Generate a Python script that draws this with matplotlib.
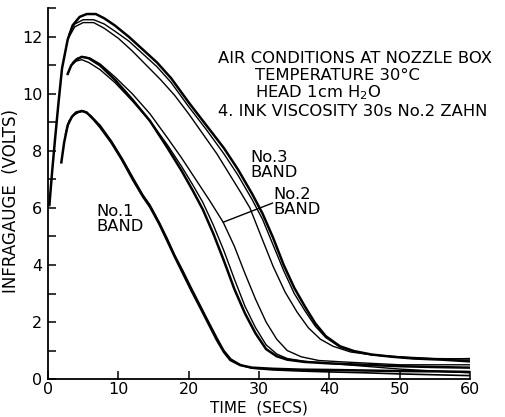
import matplotlib
matplotlib.use("Agg")
import matplotlib.pyplot as plt

# No.3 band - three traces
b3_t1 = [0.2, 0.6, 1.0, 1.5, 2.0, 2.8, 3.5, 4.5, 5.5, 6.8, 8.0, 9.5, 11.5, 13.5, 15.5, 17.5, 20, 22.5, 25,
         27, 29, 30.5, 32, 33.5, 35, 36.5, 38, 39.5, 41.5, 43.5, 46, 49, 52, 56, 60]
b3_v1 = [6.1, 7.3, 8.4, 9.7, 10.9, 11.9, 12.4, 12.7, 12.8, 12.8, 12.65, 12.4, 12.0, 11.55, 11.1, 10.55, 9.7, 8.9, 8.1,
         7.35, 6.5, 5.8, 4.95, 4.0, 3.2, 2.55, 1.95, 1.5, 1.15, 0.98, 0.86, 0.78, 0.72, 0.68, 0.62]
b3_t2 = [3.0, 3.8, 5.0, 6.5, 8.0, 9.5, 11.5, 13.5, 15.5, 17.5, 20, 22.5, 25, 27, 29, 30.5, 32, 33.5, 35, 36.5,
         38, 39.5, 41.5, 43.5, 46, 49, 52, 56, 60]
b3_v2 = [12.1, 12.45, 12.6, 12.6, 12.45, 12.2, 11.85, 11.4, 10.95, 10.4, 9.55, 8.75, 7.9, 7.15, 6.3, 5.6, 4.7, 3.8,
         3.0, 2.4, 1.85, 1.45, 1.12, 0.96, 0.85, 0.78, 0.72, 0.7, 0.72]
b3_t3 = [3.0, 3.8, 5.0, 6.5, 8.0, 10, 12, 14, 16, 18, 20, 22, 24, 26, 27.5, 28.7, 30.3, 32, 33.7, 35.4, 37, 38.7,
         40.5, 43, 46, 50, 55, 60]
b3_v3 = [12.0, 12.35, 12.5, 12.5, 12.3, 11.95, 11.5, 11.0, 10.5, 9.95, 9.3, 8.6, 7.9, 7.1, 6.5, 6.0, 5.0, 3.95,
         3.05, 2.35, 1.8, 1.4, 1.15, 0.95, 0.85, 0.78, 0.72, 0.7]

# No.2 band
b2_t1 = [2.8, 3.3, 4.0, 4.8, 5.8, 7.4, 9.5, 12.0, 14.5, 17.0, 19.0, 20.6, 22.0, 23.5, 25.0, 26.5, 28.0, 29.5,
         31.0, 32.5, 34.0, 36.5, 40, 45, 50, 55, 60]
b2_v1 = [10.7, 11.0, 11.2, 11.3, 11.25, 11.0, 10.5, 9.8, 9.05, 8.1, 7.3, 6.6, 5.95, 5.1, 4.15, 3.15, 2.3, 1.6,
         1.05, 0.8, 0.68, 0.6, 0.55, 0.5, 0.45, 0.42, 0.4]
b2_t2 = [3.3, 4.0, 4.8, 5.8, 7.4, 9.5, 12.0, 14.5, 17.0, 19.0, 20.6, 22.0, 23.5, 25.0, 26.5, 28.0, 29.5, 31.0,
         32.5, 34.0, 36.5, 40, 45, 50, 55, 60]
b2_v2 = [11.0, 11.15, 11.2, 11.1, 10.85, 10.4, 9.75, 9.05, 8.2, 7.45, 6.8, 6.2, 5.4, 4.5, 3.5, 2.55, 1.8, 1.2,
         0.88, 0.72, 0.62, 0.55, 0.45, 0.35, 0.28, 0.22]
b2_t3 = [3.5, 4.2, 5.0, 6.0, 7.4, 9.5, 12.0, 14.5, 17.0, 19.0, 21.0, 23.0, 24.9, 26.5, 28.0, 29.5, 31.0, 32.5,
         34.0, 36.0, 38.5, 42, 46, 50, 55, 60]
b2_v3 = [11.1, 11.25, 11.3, 11.25, 11.05, 10.6, 10.0, 9.3, 8.45, 7.75, 7.0, 6.25, 5.5, 4.65, 3.7, 2.8, 2.0,
         1.4, 1.0, 0.78, 0.65, 0.6, 0.55, 0.5, 0.5, 0.5]

# No.1 band
b1_t1 = [1.9, 2.3, 2.8, 3.4, 4.0, 4.8, 5.5, 6.5, 7.4, 9.0, 10.5, 12.1, 13.5, 14.5, 15.8, 16.9, 18.0, 19.2, 20.4,
         21.6, 22.8, 24.0, 25.0, 25.9, 27.3, 29, 32, 36, 40, 45, 50, 55, 60]
b1_v1 = [7.6, 8.3, 8.9, 9.2, 9.35, 9.4, 9.35, 9.1, 8.84, 8.3, 7.7, 6.98, 6.4, 6.04, 5.45, 4.88, 4.3, 3.7, 3.1,
         2.53, 1.95, 1.37, 0.95, 0.67, 0.49, 0.4, 0.36, 0.33, 0.32, 0.3, 0.28, 0.27, 0.25]
b1_t2 = [2.5, 3.0, 3.6, 4.3, 5.0, 6.0, 7.4, 9.0, 10.5, 12.1, 13.5, 14.5, 15.8, 16.9, 18.0, 19.2, 20.4, 21.6, 22.8,
         24.0, 25.0, 26.0, 27.5, 29, 32, 36, 40, 45, 50, 55, 60]
b1_v2 = [8.6, 9.05, 9.25, 9.35, 9.4, 9.25, 8.9, 8.35, 7.75, 7.05, 6.45, 6.1, 5.5, 4.95, 4.35, 3.78, 3.18, 2.6,
         2.02, 1.45, 1.0, 0.7, 0.48, 0.38, 0.32, 0.28, 0.25, 0.22, 0.18, 0.15, 0.12]

air_lines = ["AIR CONDITIONS AT NOZZLE BOX", "TEMPERATURE 30°C", "HEAD 1cm H$_2$O",
             "4. INK VISCOSITY 30s No.2 ZAHN"]

fig = plt.figure(figsize=(5.05, 4.17), dpi=100)
ax = fig.add_axes([0.095, 0.091, 0.836, 0.889])

k = "black"
ax.plot(b3_t1, b3_v1, color=k, lw=1.8)
ax.plot(b3_t2, b3_v2, color=k, lw=1.0)
ax.plot(b3_t3, b3_v3, color=k, lw=1.0)
ax.plot(b2_t1, b2_v1, color=k, lw=1.8)
ax.plot(b2_t2, b2_v2, color=k, lw=1.0)
ax.plot(b2_t3, b2_v3, color=k, lw=1.0)
ax.plot(b1_t1, b1_v1, color=k, lw=1.8)
ax.plot(b1_t2, b1_v2, color=k, lw=1.2)

ax.set_xlim(0, 60)
ax.set_ylim(0, 13)
ax.set_xticks(range(0, 61, 10))
ax.set_yticks(range(0, 14))
ax.set_yticklabels([str(v) if v % 2 == 0 and v <= 12 else "" for v in range(0, 14)])
ax.tick_params(direction="in", length=6, width=1.1, labelsize=11.5, pad=4)
ax.tick_params(axis="x", pad=2)
ax.spines["top"].set_visible(False)
ax.spines["right"].set_visible(False)
for s in ["left", "bottom"]:
    ax.spines[s].set_linewidth(1.3)

ax.set_xlabel("TIME  (SECS)", fontsize=11)
ax.set_ylabel("INFRAGAUGE  (VOLTS)", fontsize=12)
ax.xaxis.set_label_coords(0.5, -0.058)
ax.yaxis.set_label_coords(-0.066, 0.48)

fs = 11.8
ax.text(24.2, 11.23, air_lines[0], fontsize=fs, va="center")
ax.text(29.4, 10.63, air_lines[1], fontsize=fs, va="center")
ax.text(29.4, 10.04, air_lines[2], fontsize=fs, va="center")
ax.text(24.2, 9.37, air_lines[3], fontsize=fs, va="center")

ax.text(28.7, 7.5, "No.3\nBAND", fontsize=fs, va="center", linespacing=1.0)
ax.text(32.0, 6.2, "No.2\nBAND", fontsize=fs, va="center", linespacing=1.0)
ax.text(6.9, 5.6, "No.1\nBAND", fontsize=fs, va="center", linespacing=1.0)
ax.plot([24.9, 31.9], [5.5, 6.17], color=k, lw=1.0)

fig.savefig("out.png", dpi=100)
